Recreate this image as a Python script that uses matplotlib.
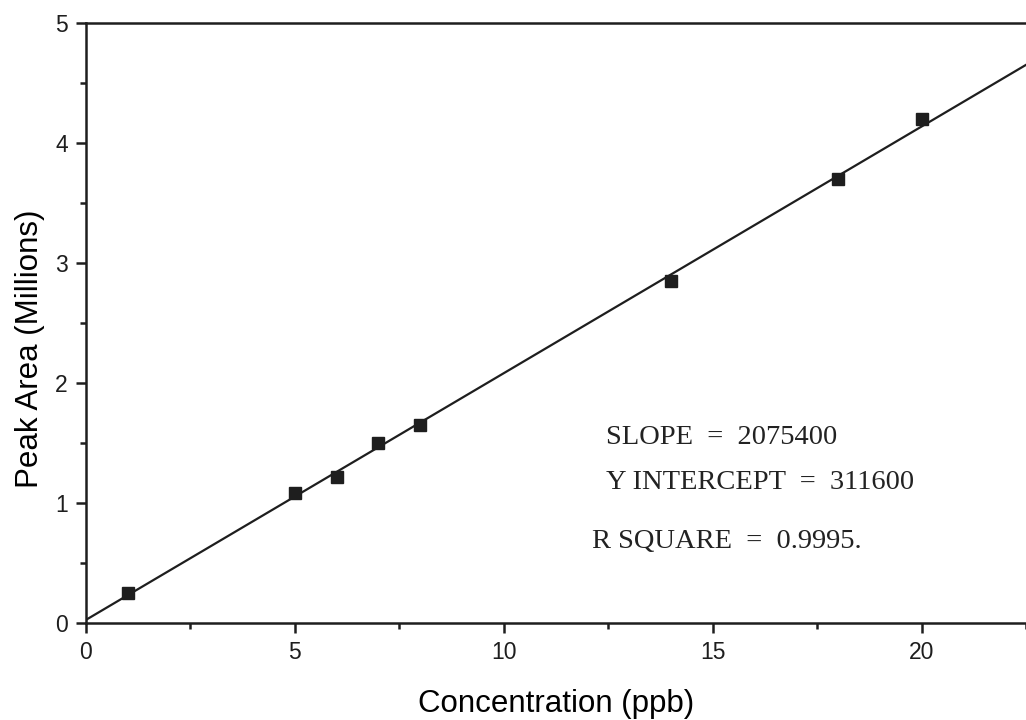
import numpy as np
import matplotlib
matplotlib.use("Agg")
import matplotlib.pyplot as plt
from matplotlib.ticker import MultipleLocator

plt.rcParams["font.family"] = ["Liberation Sans", "DejaVu Sans"]

# calibration data
conc_ppb = [1, 5, 6, 7, 8, 14, 18, 20]
peak_area_millions = [0.25, 1.08, 1.22, 1.50, 1.65, 2.85, 3.70, 4.20]

stats_lines = ["SLOPE  =  2075400", "Y INTERCEPT  =  311600", "R SQUARE  =  0.9995."]
stats_x = [12.45, 12.45, 12.1]
stats_y = [1.55, 1.17, 0.68]

fig = plt.figure(figsize=(10.26, 7.2), dpi=100)
ax = fig.add_axes([0.0838, 0.1347, 1.0 - 0.0838, 0.968 - 0.1347])

# least squares line through the points
fit = np.polyfit(conc_ppb, peak_area_millions, 1)
xl = np.array([0, 22.5])
ax.plot(xl, np.polyval(fit, xl), color="#1e1e1e", lw=1.6, zorder=2)
ax.plot(conc_ppb, peak_area_millions, "s", color="#1e1e1e", ms=8.5, zorder=3)

ax.set_xlim(0, 22.5)
ax.set_ylim(0, 5)
ax.xaxis.set_major_locator(MultipleLocator(5))
ax.xaxis.set_minor_locator(MultipleLocator(2.5))
ax.yaxis.set_major_locator(MultipleLocator(1))
ax.yaxis.set_minor_locator(MultipleLocator(0.5))

for s in ["left", "bottom", "top"]:
    ax.spines[s].set_linewidth(1.8)
    ax.spines[s].set_color("#1e1e1e")
ax.spines["right"].set_visible(False)

ax.tick_params(which="major", direction="out", length=7, width=1.8, colors="#1e1e1e",
               labelsize=16.5, pad=6)
ax.tick_params(which="minor", direction="out", length=4, width=1.8, colors="#1e1e1e")

ax.set_xlabel("Concentration (ppb)", fontsize=22.5, labelpad=18)
ax.set_ylabel("Peak Area (Millions)", fontsize=22.5, labelpad=7)
ax.yaxis.label.set_y(0.457)

for txt, tx, ty in zip(stats_lines, stats_x, stats_y):
    ax.text(tx, ty, txt, fontsize=20.5, family="Liberation Serif", va="center",
            ha="left", color="#222222")

fig.savefig("out.png", dpi=100)
